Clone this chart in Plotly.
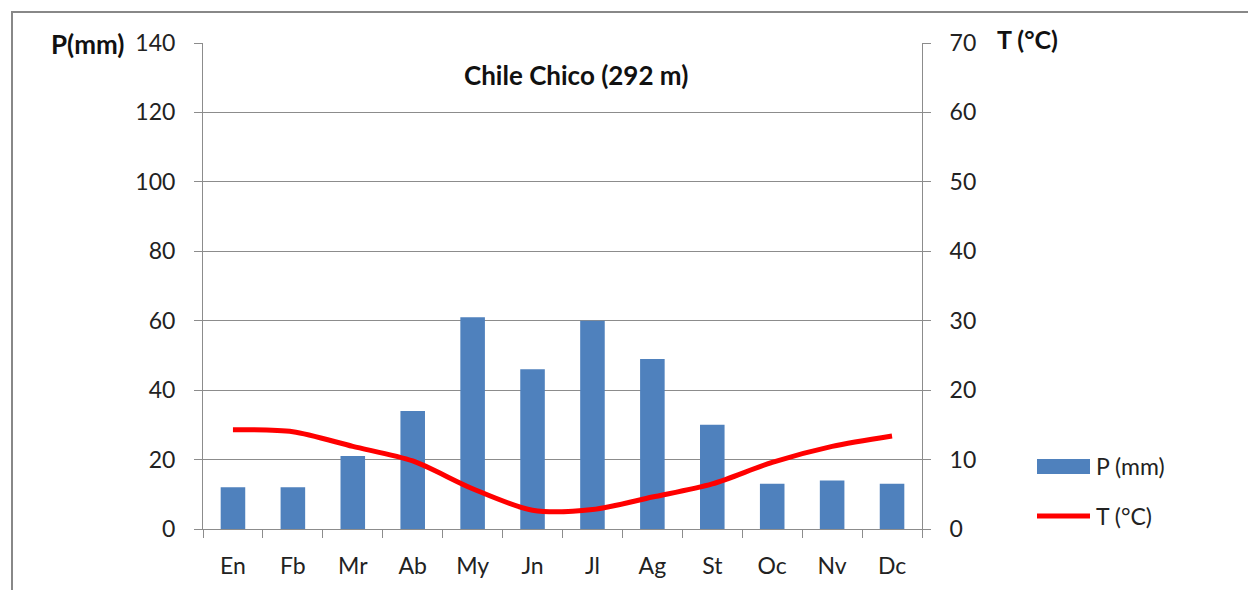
import plotly.graph_objects as go

months = ["En", "Fb", "Mr", "Ab", "My", "Jn", "Jl", "Ag", "St", "Oc", "Nv", "Dc"]
precip_mm = [12, 12, 21, 34, 61, 46, 60, 49, 30, 13, 14, 13]
temp_c = [14.3, 14.0, 11.9, 9.8, 5.8, 2.7, 2.8, 4.6, 6.5, 9.6, 11.9, 13.4]

left_ticks = [0, 20, 40, 60, 80, 100, 120, 140]
right_ticks = [0, 10, 20, 30, 40, 50, 60, 70]

FONT = "Lato, Calibri, Carlito, sans-serif"
GRID = "#8c8c8c"
BAR_COLOR = "#4F81BD"
LINE_COLOR = "#FF0000"

# plot-area geometry (pixels) used to place paper-referenced decorations
L, R, T, B = 203, 922, 43, 529
PW, PH = R - L, B - T


def px(x):
    return (x - L) / PW


def py(y):
    return (B - y) / PH


fig = go.Figure()
fig.add_trace(go.Bar(x=months, y=precip_mm, name="P (mm)",
                     marker=dict(color=BAR_COLOR, line=dict(width=0)),
                     yaxis="y", showlegend=False))
fig.add_trace(go.Scatter(x=months, y=temp_c, name="T (°C)", mode="lines",
                         line=dict(color=LINE_COLOR, width=5, shape="spline", smoothing=0.8),
                         yaxis="y2", showlegend=False))

fig.update_layout(
    width=1248, height=590,
    margin=dict(l=L, r=1248 - R, t=T, b=590 - B, autoexpand=False),
    paper_bgcolor="white", plot_bgcolor="white",
    font=dict(family=FONT, size=23, color="#222222"),
    bargap=0.59,
    showlegend=False,
    xaxis=dict(showline=True, linecolor=GRID, linewidth=1, ticks="outside",
               tickson="boundaries", ticklen=8, tickcolor=GRID,
               showgrid=False, tickfont=dict(size=23), ticklabelstandoff=16),
    yaxis=dict(range=[0, 140], tickvals=left_ticks, showline=True, linecolor=GRID,
               linewidth=1, ticks="outside", ticklen=8, tickcolor=GRID,
               showgrid=True, gridcolor=GRID, gridwidth=1, zeroline=False,
               tickfont=dict(size=23), ticklabelstandoff=14),
    yaxis2=dict(range=[0, 70], tickvals=right_ticks, overlaying="y", side="right",
                showline=True, linecolor=GRID, linewidth=1, ticks="outside",
                ticklen=8, tickcolor=GRID, showgrid=False, zeroline=False,
                tickfont=dict(size=23), ticklabelstandoff=14),
    shapes=[
        dict(type="rect", xref="paper", yref="paper",
             x0=px(12), x1=px(1260), y0=py(600), y1=py(12),
             line=dict(color="#888888", width=2), fillcolor="rgba(0,0,0,0)",
             layer="below"),
        # legend swatches
        dict(type="rect", xref="paper", yref="paper",
             x0=px(1037), x1=px(1090), y0=py(474), y1=py(459),
             line=dict(width=0), fillcolor=BAR_COLOR),
        dict(type="line", xref="paper", yref="paper",
             x0=px(1037), x1=px(1090), y0=py(516), y1=py(516),
             line=dict(color=LINE_COLOR, width=5)),
    ],
    annotations=[
        dict(text="<b>Chile Chico (292 m)</b>", xref="paper", yref="paper",
             x=px(576), y=py(75), xanchor="center", yanchor="middle",
             showarrow=False, font=dict(family=FONT, size=26, color="#111111")),
        dict(text="<b>P(mm)</b>", xref="paper", yref="paper",
             x=px(126), y=py(44), xanchor="right", yanchor="middle",
             showarrow=False, font=dict(family=FONT, size=26, color="#111111")),
        dict(text="<b>T (°C)</b>", xref="paper", yref="paper",
             x=px(995), y=py(39), xanchor="left", yanchor="middle",
             showarrow=False, font=dict(family=FONT, size=25, color="#111111")),
        dict(text="P (mm)", xref="paper", yref="paper",
             x=px(1094), y=py(466), xanchor="left", yanchor="middle",
             showarrow=False, font=dict(family=FONT, size=23, color="#222222")),
        dict(text="T (°C)", xref="paper", yref="paper",
             x=px(1094), y=py(516), xanchor="left", yanchor="middle",
             showarrow=False, font=dict(family=FONT, size=23, color="#222222")),
    ],
)

fig.write_html("out.html",
               config={"displayModeBar": False},
               post_script="document.body.style.margin='0';document.body.style.overflow='hidden';")
